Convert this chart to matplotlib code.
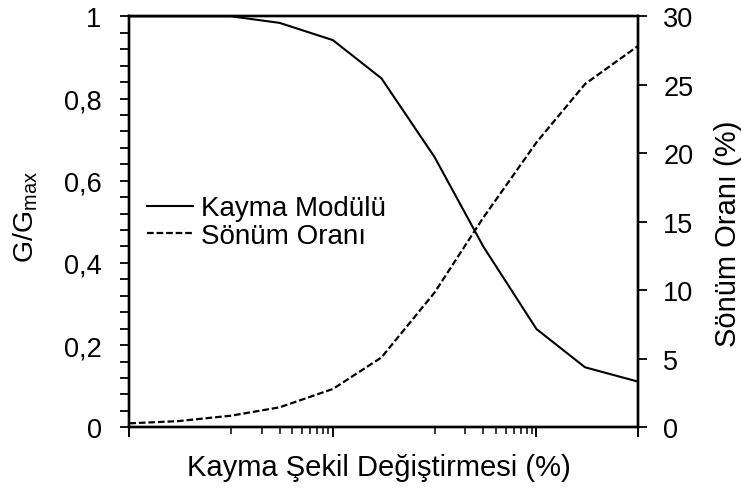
import matplotlib
matplotlib.use("Agg")
import matplotlib.pyplot as plt
from matplotlib.ticker import FixedLocator, NullFormatter, MultipleLocator, FuncFormatter

plt.rcParams['font.family'] = ['Liberation Sans', 'DejaVu Sans']

# Data (shear strain in %)
strain = [0.0001, 0.0003, 0.001, 0.003, 0.01, 0.03, 0.1, 0.3, 1, 3, 10]
g_ratio = [1.0, 1.0, 1.0, 0.984, 0.942, 0.849, 0.657, 0.44, 0.239, 0.146, 0.111]
damping = [0.29, 0.45, 0.85, 1.46, 2.8, 5.1, 9.85, 15.3, 20.8, 25.06, 27.85]

x_major = [0.0001, 0.01, 1, 10]
x_minor = [0.001, 0.002, 0.003, 0.004, 0.005, 0.006, 0.007, 0.008, 0.009,
           0.1, 0.2, 0.3, 0.4, 0.5, 0.6, 0.7, 0.8, 0.9]

fig = plt.figure(figsize=(7.41, 4.89), dpi=100)
ax = fig.add_axes([0.1745, 0.1241, 0.8614 - 0.1745, 0.9646 - 0.1241])
ax2 = ax.twinx()

l1, = ax.plot(strain, g_ratio, color='black', lw=1.5, label='Kayma Modülü')
l2, = ax2.plot(strain, damping, color='black', lw=1.6, linestyle=(0, (3, 1.3)),
               label='Sönüm Oranı')

ax.set_xscale('log')
ax.set_xlim(0.0001, 10)
ax.set_ylim(0, 1)
ax2.set_ylim(0, 30)

ax.xaxis.set_major_locator(FixedLocator(x_major))
ax.xaxis.set_minor_locator(FixedLocator(x_minor))
ax.xaxis.set_major_formatter(NullFormatter())
ax.xaxis.set_minor_formatter(NullFormatter())

ax.yaxis.set_major_locator(MultipleLocator(0.2))
ax.yaxis.set_minor_locator(MultipleLocator(0.04))
ax.yaxis.set_major_formatter(FuncFormatter(
    lambda v, p: ('%g' % round(v, 2)).replace('.', ',')))
ax2.yaxis.set_major_locator(MultipleLocator(5))
ax2.yaxis.set_major_formatter(FuncFormatter(lambda v, p: '%d' % v))

for a in (ax, ax2):
    for s in a.spines.values():
        s.set_linewidth(1.7)
        s.set_color('black')

ax.tick_params(axis='x', which='major', direction='out', length=7.5, width=1.4)
ax.tick_params(axis='x', which='minor', direction='out', length=5, width=1.1)
ax.tick_params(axis='y', which='major', direction='out', length=6.5, width=1.3,
               labelsize=19.5, pad=13.5)
ax.tick_params(axis='y', which='minor', direction='out', length=6.5, width=1.3)
ax2.tick_params(axis='y', which='major', direction='out', length=6.5, width=1.3,
                labelsize=19.5, pad=11.5)

ax.set_xlabel('Kayma Şekil Değiştirmesi (%)', fontsize=21, va='center')
ax.xaxis.set_label_coords(0.4894, -0.097)
ax.set_ylabel('G/G$_{\\mathregular{max}}$', fontsize=20.5, va='center')
ax.yaxis.set_label_coords(-0.204, 0.514)
ax2.set_ylabel('Sönüm Oranı (%)', fontsize=21, va='center', rotation=90)
ax2.yaxis.set_label_coords(1.176, 0.474)

leg = ax.legend(handles=[l1, l2], loc='center left',
                bbox_to_anchor=(0.035, 0.4995), frameon=False, fontsize=20,
                handlelength=1.65, handletextpad=0.3, labelspacing=0.05,
                borderaxespad=0.0, borderpad=0.0)

fig.savefig('out.png', dpi=100)
